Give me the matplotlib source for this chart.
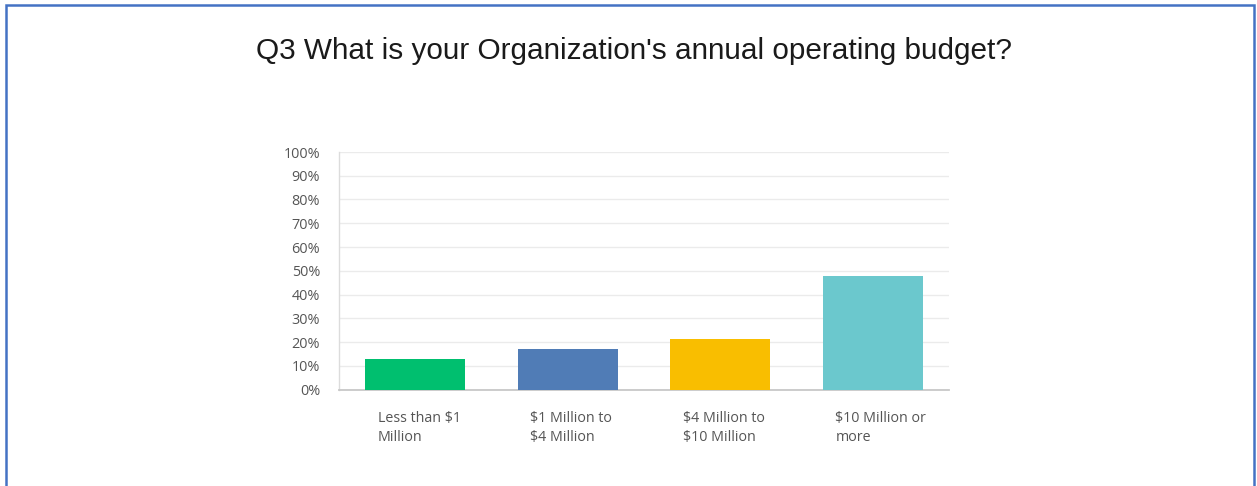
import matplotlib
matplotlib.use("Agg")
import matplotlib.pyplot as plt
from matplotlib.patches import Rectangle
from matplotlib.ticker import PercentFormatter, MultipleLocator

categories = ["Less than $1\nMillion", "$1 Million to\n$4 Million",
              "$4 Million to\n$10 Million", "$10 Million or\nmore"]
shares = [12.7, 16.9, 21.1, 47.7]
bar_colors = ["#00bf6f", "#507cb6", "#f9be00", "#6bc8cd"]
title = "Q3 What is your Organization's annual operating budget?"

W, H = 1257, 486
fig = plt.figure(figsize=(W / 100, H / 100), dpi=100)
fig.patch.set_facecolor("white")

# blue frame (bottom edge runs off the canvas)
fig.add_artist(Rectangle((6 / W, -0.05), (1254 - 6) / W, (H - 5) / H + 0.05,
                         transform=fig.transFigure, fill=False,
                         edgecolor="#4472c4", linewidth=1.8))

fig.text(634 / W, 1 - 51 / H, title, ha="center", va="center",
         fontsize=21.4, family="Liberation Sans", color="#1a1a1a")

left, right, top, bottom = 339, 949, 152, 389.5
ax = fig.add_axes([left / W, 1 - bottom / H, (right - left) / W, (bottom - top) / H])

x = range(len(categories))
ax.bar(x, shares, width=0.656, color=bar_colors, zorder=3)
ax.set_xlim(-0.5, len(categories) - 0.5)
ax.set_ylim(0, 100)

ax.yaxis.set_major_locator(MultipleLocator(10))
ax.yaxis.set_major_formatter(PercentFormatter(decimals=0))
ax.grid(axis="y", color="#ebebeb", linewidth=1, zorder=0)
ax.tick_params(axis="y", length=0, pad=13.5, labelsize=10.4, labelcolor="#555555")
for lab in ax.get_yticklabels():
    lab.set_family("Open Sans")

ax.set_xticks([])
for i, cat in enumerate(categories):
    ax.text(i - 0.245, -9.0, cat, ha="left", va="top", fontsize=10.3,
            family="Open Sans", color="#555555", linespacing=1.42)

for side in ("top", "right"):
    ax.spines[side].set_visible(False)
ax.spines["left"].set_color("#dcdcdc")
ax.spines["left"].set_linewidth(1)
ax.spines["bottom"].set_color("#c8c8c8")
ax.spines["bottom"].set_linewidth(1.3)

fig.savefig("out.png", dpi=100)
